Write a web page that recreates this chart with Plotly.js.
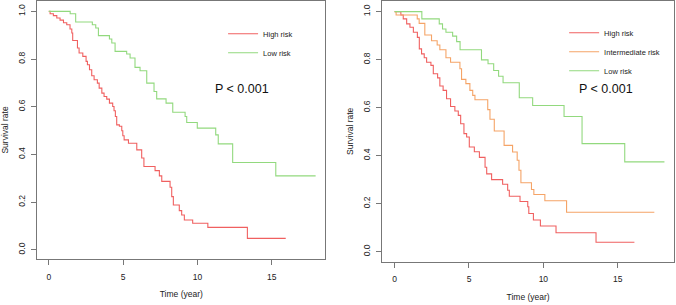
<!DOCTYPE html>
<html>
<head>
<meta charset="utf-8">
<script src="https://cdn.plot.ly/plotly-3.0.1.min.js"></script>
<style>
html,body{margin:0;padding:0;background:#fff;}
#chart{width:676px;height:305px;}
</style>
</head>
<body>
<div id="chart"></div>
<script>
// ---- Left panel: two risk groups ----
var leftHighTime = [0, 0.09, 0.31, 0.54, 0.76, 0.99, 1.21, 1.43, 1.55, 1.61, 1.93, 2.04, 2.29, 2.51, 2.6, 2.74, 2.89, 3.05, 3.27, 3.39, 3.57, 3.72, 3.9, 4.08, 4.3, 4.39, 4.48, 4.57, 4.75, 4.91, 4.98, 5.07, 5.36, 5.92, 6.25, 6.4, 7.15, 7.44, 7.6, 8.16, 8.27, 8.38, 8.78, 8.94, 9.12, 9.68, 10.7, 13.36, 15.94];
var leftHighSurv = [1, 0.99, 0.982, 0.972, 0.963, 0.952, 0.944, 0.926, 0.909, 0.878, 0.846, 0.825, 0.811, 0.79, 0.776, 0.755, 0.73, 0.713, 0.699, 0.678, 0.657, 0.643, 0.632, 0.615, 0.601, 0.583, 0.559, 0.524, 0.518, 0.499, 0.478, 0.461, 0.447, 0.419, 0.385, 0.349, 0.332, 0.31, 0.287, 0.262, 0.223, 0.188, 0.164, 0.146, 0.125, 0.111, 0.094, 0.048, 0.048];
var leftLowTime = [0, 1.44, 1.81, 2.93, 3.16, 3.34, 4.08, 4.24, 4.46, 5.24, 5.47, 5.8, 6.14, 6.59, 7.08, 7.26, 7.89, 8.34, 9.17, 9.28, 9.99, 11.23, 11.4, 12.37, 15.27, 17.95];
var leftLowSurv = [1, 0.99, 0.955, 0.944, 0.93, 0.898, 0.884, 0.867, 0.832, 0.821, 0.804, 0.765, 0.751, 0.699, 0.664, 0.633, 0.615, 0.577, 0.559, 0.534, 0.51, 0.482, 0.444, 0.366, 0.31, 0.31];

// ---- Right panel: three risk groups ----
var rightHighTime = [0, 0.42, 0.58, 0.81, 1.03, 1.26, 1.53, 1.66, 1.81, 1.99, 2.15, 2.44, 2.6, 2.89, 3.04, 3.26, 3.49, 3.76, 4.05, 4.28, 4.44, 4.66, 4.84, 5.02, 5.36, 5.7, 6.08, 6.19, 6.52, 7.26, 7.6, 7.71, 8.43, 8.95, 9.02, 9.33, 9.8, 10.85, 13.54, 16.12];
var rightHighSurv = [1, 0.986, 0.97, 0.949, 0.935, 0.914, 0.893, 0.845, 0.824, 0.808, 0.789, 0.776, 0.741, 0.724, 0.69, 0.672, 0.637, 0.605, 0.586, 0.568, 0.533, 0.492, 0.478, 0.436, 0.416, 0.393, 0.352, 0.324, 0.3, 0.281, 0.256, 0.231, 0.209, 0.187, 0.159, 0.132, 0.107, 0.079, 0.039, 0.039];
var rightMidTime = [0, 0.1, 1.52, 1.65, 2.03, 2.48, 2.86, 3.04, 3.45, 3.76, 4.39, 4.5, 4.79, 5.06, 5.25, 5.4, 6.26, 6.41, 6.7, 7.36, 7.93, 8.24, 8.36, 8.49, 9.2, 9.36, 10.1, 11.56, 17.46];
var rightMidSurv = [1, 0.986, 0.97, 0.951, 0.903, 0.879, 0.861, 0.841, 0.808, 0.789, 0.762, 0.718, 0.7, 0.672, 0.651, 0.633, 0.592, 0.552, 0.503, 0.443, 0.415, 0.381, 0.339, 0.287, 0.259, 0.238, 0.212, 0.164, 0.164];
var rightLowTime = [0, 1.83, 3.0, 3.22, 3.45, 3.9, 4.17, 4.4, 5.84, 6.28, 6.66, 6.99, 7.29, 8.38, 9.28, 11.39, 12.6, 15.47, 18.14];
var rightLowSurv = [1, 0.97, 0.949, 0.928, 0.914, 0.898, 0.875, 0.841, 0.799, 0.783, 0.755, 0.731, 0.704, 0.641, 0.609, 0.563, 0.45, 0.374, 0.374];

var xTicks = [0, 5, 10, 15];
var yTicks = [0, 0.2, 0.4, 0.6, 0.8, 1.0];
var yTickText = ['0.0', '0.2', '0.4', '0.6', '0.8', '1.0'];
var pText = 'P < 0.001';

var RED = '#f06060', GREEN = '#92d97e', ORANGE = '#f5a467';
var FONT = '"Liberation Sans", Arial, Helvetica, sans-serif';

function km(x, y, name, color, xa, ya, leg) {
  return {x: x, y: y, name: name, type: 'scatter', mode: 'lines',
    line: {shape: 'hv', color: color, width: 1.1},
    xaxis: xa, yaxis: ya, legend: leg, hoverinfo: 'x+y+name'};
}

var data = [
  km(leftHighTime, leftHighSurv, 'High risk', RED, 'x', 'y', 'legend'),
  km(leftLowTime, leftLowSurv, 'Low risk', GREEN, 'x', 'y', 'legend'),
  km(rightHighTime, rightHighSurv, 'High risk', RED, 'x2', 'y2', 'legend2'),
  km(rightMidTime, rightMidSurv, 'Intermediate risk', ORANGE, 'x2', 'y2', 'legend2'),
  km(rightLowTime, rightLowSurv, 'Low risk', GREEN, 'x2', 'y2', 'legend2')
];

function xax(domain, range, anchor) {
  return {domain: domain, range: range, anchor: anchor,
    tickvals: xTicks, ticks: 'outside', ticklen: 5, tickcolor: '#777', tickwidth: 1,
    ticklabelstandoff: 4,
    showline: true, mirror: true, linecolor: '#777', linewidth: 1,
    showgrid: false, zeroline: false,
    tickfont: {size: 8.5, color: '#222', family: FONT},
    title: {text: 'Time (year)', font: {size: 8.5, color: '#222', family: FONT}, standoff: 10}};
}
function yax(domain, range, anchor) {
  return {domain: domain, range: range, anchor: anchor,
    tickvals: yTicks, ticktext: yTickText, tickangle: -90,
    ticks: 'outside', ticklen: 5, tickcolor: '#777', tickwidth: 1,
    ticklabelstandoff: 3,
    showline: true, mirror: true, linecolor: '#777', linewidth: 1,
    showgrid: false, zeroline: false,
    tickfont: {size: 8.5, color: '#222', family: FONT},
    title: {text: 'Survival rate', font: {size: 8.5, color: '#222', family: FONT}, standoff: 6}};
}

var legendStyle = {font: {size: 7.5, color: '#222', family: FONT}, bgcolor: 'rgba(0,0,0,0)',
  borderwidth: 0, xanchor: 'left', yanchor: 'top', tracegroupgap: 0};

var layout = {
  width: 676, height: 305,
  margin: {l: 0, r: 0, t: 0, b: 0},
  paper_bgcolor: '#fff', plot_bgcolor: '#fff',
  font: {family: FONT, color: '#222'},
  showlegend: true,
  xaxis: xax([0.0552, 0.4812], [-0.77, 18.6], 'y'),
  yaxis: yax([0.1498, 0.998], [-0.04, 1.045], 'x'),
  xaxis2: xax([0.5655, 0.9970], [-0.83, 18.78], 'y2'),
  yaxis2: yax([0.141, 0.998], [-0.043, 1.046], 'x2'),
  legend: Object.assign({x: 0.330, y: 0.937}, legendStyle),
  legend2: Object.assign({x: 0.8345, y: 0.940}, legendStyle),
  annotations: [
    {xref: 'x', yref: 'y', x: 13.03, y: 0.674, text: pText, showarrow: false,
     font: {size: 12.5, color: '#111', family: FONT}},
    {xref: 'x2', yref: 'y2', x: 14.18, y: 0.679, text: pText, showarrow: false,
     font: {size: 12.5, color: '#111', family: FONT}}
  ]
};

Plotly.newPlot('chart', data, layout, {displayModeBar: false, staticPlot: true});
</script>
</body>
</html>
